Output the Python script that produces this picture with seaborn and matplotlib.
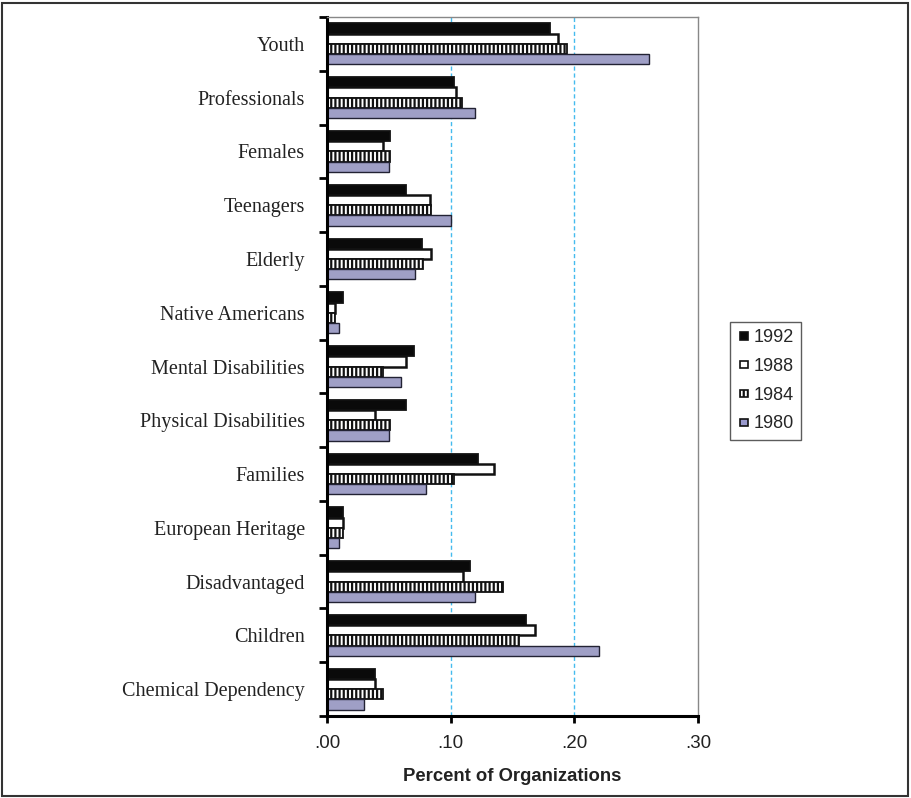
import matplotlib
matplotlib.use("Agg")
import matplotlib.pyplot as plt
import seaborn as sns
import pandas as pd
from matplotlib.patches import Patch, Rectangle
from matplotlib.legend_handler import HandlerPatch
from matplotlib.ticker import FixedLocator, NullFormatter

# Share of organizations serving each population group, by survey year
groups = ["Youth", "Professionals", "Females", "Teenagers", "Elderly",
          "Native Americans", "Mental Disabilities", "Physical Disabilities",
          "Families", "European Heritage", "Disadvantaged", "Children",
          "Chemical Dependency"]
years = ["1992", "1988", "1984", "1980"]
share_1992 = [0.180, 0.103, 0.051, 0.064, 0.077, 0.013, 0.070, 0.064, 0.122, 0.013, 0.116, 0.161, 0.039]
share_1988 = [0.187, 0.104, 0.045, 0.083, 0.084, 0.0065, 0.064, 0.039, 0.135, 0.013, 0.110, 0.168, 0.039]
share_1984 = [0.194, 0.109, 0.051, 0.084, 0.078, 0.0065, 0.045, 0.051, 0.103, 0.013, 0.142, 0.155, 0.045]
share_1980 = [0.260, 0.120, 0.050, 0.100, 0.071, 0.0095, 0.060, 0.050, 0.080, 0.0095, 0.120, 0.220, 0.030]
x_ticks = [0.0, 0.1, 0.2, 0.3]
x_ticklabels = [".00", ".10", ".20", ".30"]

series = {"1992": share_1992, "1988": share_1988, "1984": share_1984, "1980": share_1980}
df = pd.DataFrame([
    {"group": g, "year": y, "share": v}
    for y in years for g, v in zip(groups, series[y])
])

fill = {"1992": "#0a0a0a", "1988": "#ffffff", "1984": "#ffffff", "1980": "#9999cc"}
hatches = {"1992": "", "1988": "", "1984": "||||", "1980": ""}

sns.set_theme(style="white")
plt.rcParams["hatch.linewidth"] = 1.6
plt.rcParams["font.family"] = ["Liberation Sans", "DejaVu Sans"]

fig = plt.figure(figsize=(9.11, 7.98), dpi=100)
ax = fig.add_axes([327 / 911, 82 / 798, 371 / 911, 699 / 798])

sns.barplot(data=df, y="group", x="share", hue="year", order=groups,
            hue_order=years, palette=fill, orient="h", width=0.76, gap=0,
            edgecolor="#111111", linewidth=1.3, legend=False, ax=ax)

for cont, yr in zip(ax.containers, years):
    for bar in cont:
        bar.set_hatch(hatches[yr])
        bar.set_edgecolor("#111111")
        if yr == "1980":
            bar.set_edgecolor("#222233")
            bar.set_linewidth(1.0)
        if yr == "1988":
            bar.set_linewidth(1.8)

ax.set_xlim(0, 0.3)
ax.set_ylim(len(groups) - 0.5, -0.5)

# x axis
ax.set_xticks(x_ticks)
ax.set_xticklabels(x_ticklabels, fontsize=13.5, color="#222222")
ax.set_xlabel("Percent of Organizations", fontsize=13.3, fontweight="bold",
              color="#222222", labelpad=11)
ax.tick_params(axis="x", direction="out", length=5, width=2, color="black", pad=9,
               bottom=True)

# y axis: ticks on category boundaries, labels at centers
ax.yaxis.set_major_locator(FixedLocator([i - 0.5 for i in range(len(groups) + 1)]))
ax.yaxis.set_major_formatter(NullFormatter())
ax.yaxis.set_minor_locator(FixedLocator(list(range(len(groups)))))
ax.set_yticklabels(groups, minor=True, fontsize=14.5, family="Liberation Serif",
                   color="#222222")
ax.tick_params(axis="y", which="major", direction="out", length=6, width=2,
               color="black", left=True)
ax.tick_params(axis="y", which="minor", length=0, pad=15.8)
ax.set_ylabel("")

# grid lines
for xv in x_ticks[1:3]:
    ax.axvline(xv, color="#44bbee", linestyle=(0, (3, 2)), linewidth=1.0, zorder=0)

for side in ["left", "bottom"]:
    ax.spines[side].set_color("black")
    ax.spines[side].set_linewidth(2.2)
for side in ["top", "right"]:
    ax.spines[side].set_visible(True)
    ax.spines[side].set_color("#888888")
    ax.spines[side].set_linewidth(1.0)


# legend: small square swatches centred in the handle box
def small_square(legend, orig_handle, xdescent, ydescent, width, height, fontsize):
    s = 5.2
    return Rectangle((-xdescent + (width - s) / 2, -ydescent + (height - s) / 2), s, s)


handles = [Patch(facecolor=fill[y], edgecolor="#111111", hatch=hatches[y],
                 linewidth=1.2) for y in years]
leg = fig.legend(handles, years, loc="upper left",
                 bbox_to_anchor=(730 / 911, 1 - 322 / 798),
                 bbox_transform=fig.transFigure, fontsize=13,
                 frameon=True, fancybox=False, edgecolor="#333333",
                 handler_map={Patch: HandlerPatch(patch_func=small_square)},
                 handlelength=0.75, handleheight=0.7, handletextpad=0.15,
                 labelspacing=0.65, borderpad=0.4, borderaxespad=0)
leg.get_frame().set_linewidth(1.0)

# outer frame
fig.patches.append(Rectangle((2 / 911, 2 / 798), 906 / 911, 793 / 798,
                             transform=fig.transFigure, fill=False,
                             edgecolor="#333333", linewidth=1.5))

fig.savefig("out.png", dpi=100)
